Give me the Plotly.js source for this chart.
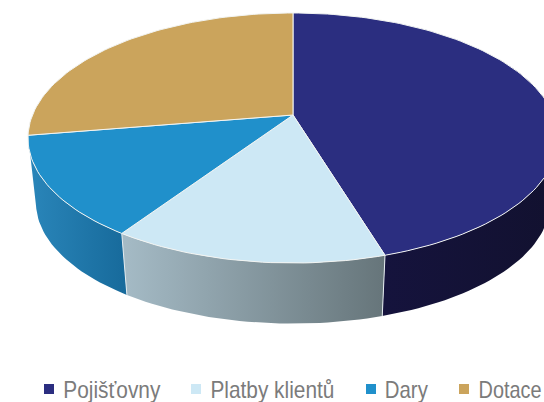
<!DOCTYPE html>
<html><head><meta charset="utf-8">
<script src="https://cdn.plot.ly/plotly-3.0.1.min.js"></script>
<style>html,body{margin:0;padding:0;background:#fff}#c{width:544px;height:402px}</style>
</head><body><div id="c"></div>
<script>
const categories = ["Pojišťovny", "Platby klientů", "Dary", "Dotace"];
const shares = [45.3, 14.1, 13.0, 27.6];
const topColors = ["#2b2e80", "#cde8f5", "#2090cb", "#cba45c"];
const wallLeft = ["#15133d", "#a5bbc6", "#2a86ba"];
const wallRight = ["#12112f", "#66757a", "#176a9b"];
const legendMarkerX = [49, 196, 371, 464];
const legendTextX = [63, 210, 385, 478];
const legendTextW = [97, 124, 43, 63];

// projection of the tilted disc
const CX = 293, CY = 115, K = 0.184, RX = 260.5, RY = 120.8;
const DEPTH_SCALE = 0.97, DEPTH = 65;
function proj(deg, lower) {
  const t = deg * Math.PI / 180, u = Math.sin(t), v = Math.cos(t), w = 1 + K * v;
  const s = lower ? DEPTH_SCALE : 1, d = lower ? DEPTH : 0;
  return [CX + s * RX * u / w, CY + d - s * RY * v / w];
}
function arc(a, b, lower) {
  const out = [], n = Math.max(2, Math.ceil(Math.abs(b - a) / 1.5));
  for (let i = 0; i <= n; i++) out.push(proj(a + (b - a) * i / n, lower));
  return out;
}
const total = shares.reduce((p, c) => p + c, 0);
let acc = 0;
const spans = shares.map(s => { const a = acc; acc += s / total * 360; return [a, acc]; });

const traces = [];
function poly(pts, extra) {
  const closed = pts.concat([pts[0]]);
  traces.push(Object.assign({
    type: "scatter", mode: "lines", x: closed.map(p => p[0]), y: closed.map(p => p[1]),
    fill: "toself", hoverinfo: "skip", showlegend: false
  }, extra));
}
// side walls: visible front part only (the last slice sits behind the disc)
wallLeft.forEach((_, i) => {
  const a = Math.max(spans[i][0], 60), b = spans[i][1];
  const pts = arc(a, b, false).concat(arc(b, a, true));
  const xs = pts.map(p => p[0]);
  poly(pts, {
    line: {width: 0},
    fillgradient: {type: "horizontal", start: Math.min(...xs), stop: Math.max(...xs),
      colorscale: [[0, wallLeft[i]], [1, wallRight[i]]]}
  });
});
// seams between walls
[spans[0][1], spans[1][1]].forEach(a => {
  const p = proj(a, false), q = proj(a, true);
  traces.push({type: "scatter", mode: "lines", x: [p[0], q[0]], y: [p[1], q[1]],
    line: {color: "#e4ebef", width: 1}, hoverinfo: "skip", showlegend: false});
});
// top faces
spans.forEach((sp, i) => {
  const pts = [[CX, CY]].concat(arc(sp[0], sp[1], false));
  poly(pts, {line: {color: "#f2f4f2", width: 1}, fillcolor: topColors[i]});
});
// legend swatches
categories.forEach((c, i) => {
  traces.push({type: "scatter", mode: "markers", x: [legendMarkerX[i]], y: [389],
    marker: {symbol: "square", size: 10, color: topColors[i]}, hoverinfo: "skip", showlegend: false});
});

const layout = {
  width: 544, height: 402, margin: {l: 0, r: 0, t: 0, b: 0},
  paper_bgcolor: "#fff", plot_bgcolor: "#fff", showlegend: false,
  xaxis: {range: [0, 544], visible: false, fixedrange: true},
  yaxis: {range: [402, 0], visible: false, fixedrange: true},
  annotations: categories.map((c, i) => ({
    text: c, x: legendTextX[i] + legendTextW[i] / 2, y: 389, xref: "x", yref: "y",
    xanchor: "center", yanchor: "middle", showarrow: false, borderpad: 0,
    font: {family: "'Liberation Sans', sans-serif", size: 24, color: "#7b7b7b"}
  }))
};
Plotly.newPlot("c", traces, layout, {staticPlot: true, displayModeBar: false}).then(() => {
  document.querySelectorAll("#c .annotation-text").forEach(t => {
    const i = categories.indexOf(t.textContent);
    if (i < 0) return;
    t.setAttribute("textLength", legendTextW[i]);
    t.setAttribute("lengthAdjust", "spacingAndGlyphs");
  });
});
</script></body></html>
